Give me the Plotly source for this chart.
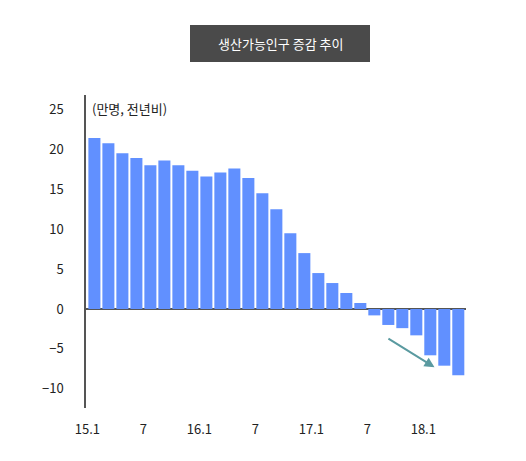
import plotly.graph_objects as go

values = [21.4, 20.75, 19.5, 18.9, 18.0, 18.6, 18.0, 17.3, 16.6, 17.1, 17.6, 16.4,
          14.5, 12.5, 9.5, 7.0, 4.5, 3.25, 2.0, 0.75, -0.8, -2.0, -2.4, -3.3, -5.8, -7.1, -8.3]
xidx = list(range(len(values)))
tick_labels = ["15.1", "7", "16.1", "7", "17.1", "7", "18.1"]
tick_pos = [-0.5 + 4 * i for i in range(len(tick_labels))]
y_ticks = [-10, -5, 0, 5, 10, 15, 20, 25]

# page has 8px body margin; coordinates below are relative to the figure
OFF = 8
L, T, B = 86 - OFF, 95 - OFF, 53
W, H = 526 - OFF, 461 - OFF
PH = H - T - B  # plot height
PW = W - L - 60

def py(pix):  # reference pixel y -> paper y
    return (H - B - (pix - OFF)) / PH

def px(pix):
    return (pix - OFF - L) / PW

fig = go.Figure(go.Bar(x=xidx, y=values, marker_color="#6190ff", marker_line_width=0, width=0.86))
fig.update_layout(
    width=W, height=H, margin=dict(l=L, r=60, t=T, b=B),
    plot_bgcolor="white", paper_bgcolor="white", showlegend=False,
    font=dict(family="Noto Sans CJK KR", size=13, color="#222"),
    xaxis=dict(range=[-0.6, 26.55], tickvals=tick_pos, ticktext=tick_labels, showgrid=False,
               zeroline=False, showline=False, ticks="", ticklabelstandoff=12),
    yaxis=dict(range=[-12.4, 26.8], tickvals=y_ticks, showgrid=False, zeroline=True,
               zerolinecolor="#555", zerolinewidth=1.5, showline=True, linecolor="#555",
               linewidth=1.5, ticks="", ticklabelstandoff=18),
    shapes=[dict(type="rect", xref="paper", yref="paper", x0=px(190), x1=px(370),
                 y0=py(62), y1=py(25), fillcolor="#4a4a4a", line_width=0)],
    annotations=[
        dict(text="생산가능인구 증감 추이", xref="paper", yref="paper", x=px(280), y=py(43.5),
             xanchor="center", yanchor="middle", showarrow=False,
             font=dict(color="white", size=13)),
        dict(text="(만명, 전년비)", xref="paper", yref="paper", x=px(90), y=py(108),
             xanchor="left", yanchor="middle", showarrow=False, font=dict(size=13)),
        dict(x=24.3, y=-7.3, ax=20.9, ay=-3.6, xref="x", yref="y", axref="x", ayref="y",
             showarrow=True, arrowhead=2, arrowsize=1, arrowwidth=2, arrowcolor="#5a9aa0", text=""),
    ],
)
fig.write_html("out.html")
